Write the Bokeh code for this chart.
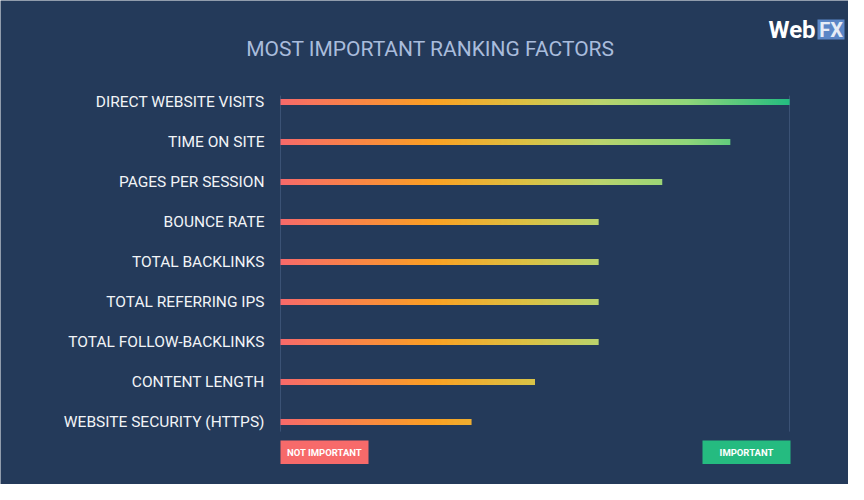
import numpy as np
from bokeh.plotting import figure
from bokeh.models import Range1d, Label, BoxAnnotation
from bokeh.core.properties import value
from bokeh.embed import file_html
from bokeh.resources import INLINE

# ---- data ----
factors = ["DIRECT WEBSITE VISITS", "TIME ON SITE", "PAGES PER SESSION", "BOUNCE RATE",
           "TOTAL BACKLINKS", "TOTAL REFERRING IPS", "TOTAL FOLLOW-BACKLINKS",
           "CONTENT LENGTH", "WEBSITE SECURITY (HTTPS)"]
scores = [8.0, 7.07, 6.0, 5.0, 5.0, 5.0, 5.0, 4.0, 3.0]
scale_max = 8.0
title_text = "MOST IMPORTANT RANKING FACTORS"
low_label = "NOT IMPORTANT"
high_label = "IMPORTANT"

# ---- style ----
BG = "#243a5a"
stops = [(0.0, "#f76a6a"), (0.30, "#faa023"), (0.48, "#dcc043"),
         (0.63, "#b9d46e"), (0.80, "#8fd67a"), (1.0, "#24bc80")]

def hex2rgb(h):
    h = h.lstrip("#")
    return np.array([int(h[i:i + 2], 16) for i in (0, 2, 4)], dtype=float)

stop_pos = np.array([s[0] for s in stops])
stop_rgb = np.array([hex2rgb(s[1]) for s in stops])

def grad(f):
    r = np.interp(f, stop_pos, stop_rgb[:, 0])
    g = np.interp(f, stop_pos, stop_rgb[:, 1])
    b = np.interp(f, stop_pos, stop_rgb[:, 2])
    return ["#%02x%02x%02x" % (int(round(a)), int(round(c)), int(round(d))) for a, c, d in zip(r, g, b)]

# ---- layout: the plot frame fills the whole canvas ----
W, H = 848, 484
X0_PX, XMAX_PX = 280, 789      # pixel position of score 0 and score max
ROW0_PX, ROW_PX = 101.5, 40    # pixel centre of first row, row pitch
ux = scale_max / (XMAX_PX - X0_PX)
x_range = Range1d(-X0_PX * ux, (W - X0_PX) * ux)
y_range = Range1d((H - ROW0_PX) / ROW_PX, -ROW0_PX / ROW_PX)

p = figure(width=W, height=H, output_backend="svg", toolbar_location=None,
           x_range=x_range, y_range=y_range,
           x_axis_location=None, y_axis_location=None, min_border=0)
p.background_fill_color = BG
p.border_fill_color = BG
p.outline_line_color = None
p.grid.visible = False

n = len(factors)
rows = list(range(n))

# vertical guide lines at 0 and max
p.segment(x0=[0, scale_max], x1=[0, scale_max], y0=[-0.16, -0.16], y1=[n - 0.76, n - 0.76],
          line_color="#3b5275", line_width=1)

# gradient bars built from many thin slices
step = ux * 2
L, R, T, B, C = [], [], [], [], []
half = 0.075
for i, v in enumerate(scores):
    edges = np.append(np.arange(0, v, step), v)
    lefts = edges[:-1]
    rights = edges[1:]
    mids = (lefts + rights) / 2 / scale_max
    L += list(lefts)
    R += list(np.minimum(rights + step * 0.4, v))
    T += [i - half] * len(lefts)
    B += [i + half] * len(lefts)
    C += grad(mids)
p.quad(left=L, right=R, top=T, bottom=B, fill_color=C, line_color=None)

# category labels
p.text(x=[0] * n, y=rows, text=factors, x_offset=-16, text_align="right",
       text_baseline="middle", text_font=value("Roboto"), text_font_size="15.5px",
       text_color="#f2f4f7")

# annotations in canvas pixels (y measured up from the bottom)
def sy(y):
    return H - y

def box(l, r, t, b, color):
    p.add_layout(BoxAnnotation(left=l, right=r, top=sy(t), bottom=sy(b),
                               left_units="screen", right_units="screen",
                               top_units="screen", bottom_units="screen",
                               fill_color=color, fill_alpha=1, line_color=None, line_alpha=0))

def label(x, y, text, size, color, align="center", style="normal"):
    p.add_layout(Label(x=x, y=sy(y), x_units="screen", y_units="screen", text=text,
                       text_font="Roboto", text_font_size=size, text_font_style=style,
                       text_color=color, text_align=align, text_baseline="middle"))

# title
label(430, 48.5, title_text, "21px", "#a9bcdc")

# legend boxes
box(280, 368, 440, 463.5, "#f76a6a")
box(702, 790, 440, 463.5, "#25bb80")
label(324, 452, low_label, "9.5px", "#ffffff", style="bold")
label(746, 452, high_label, "9.5px", "#ffffff", style="bold")

# logo
box(817, 844, 19, 39, "#5b86c6")
label(768, 29, "Web", "24px", "#ffffff", align="left", style="bold")
label(830.5, 29.5, "FX", "20px", "#e6ecf6", style="bold")

open("out.html", "w").write(file_html(p, INLINE))
